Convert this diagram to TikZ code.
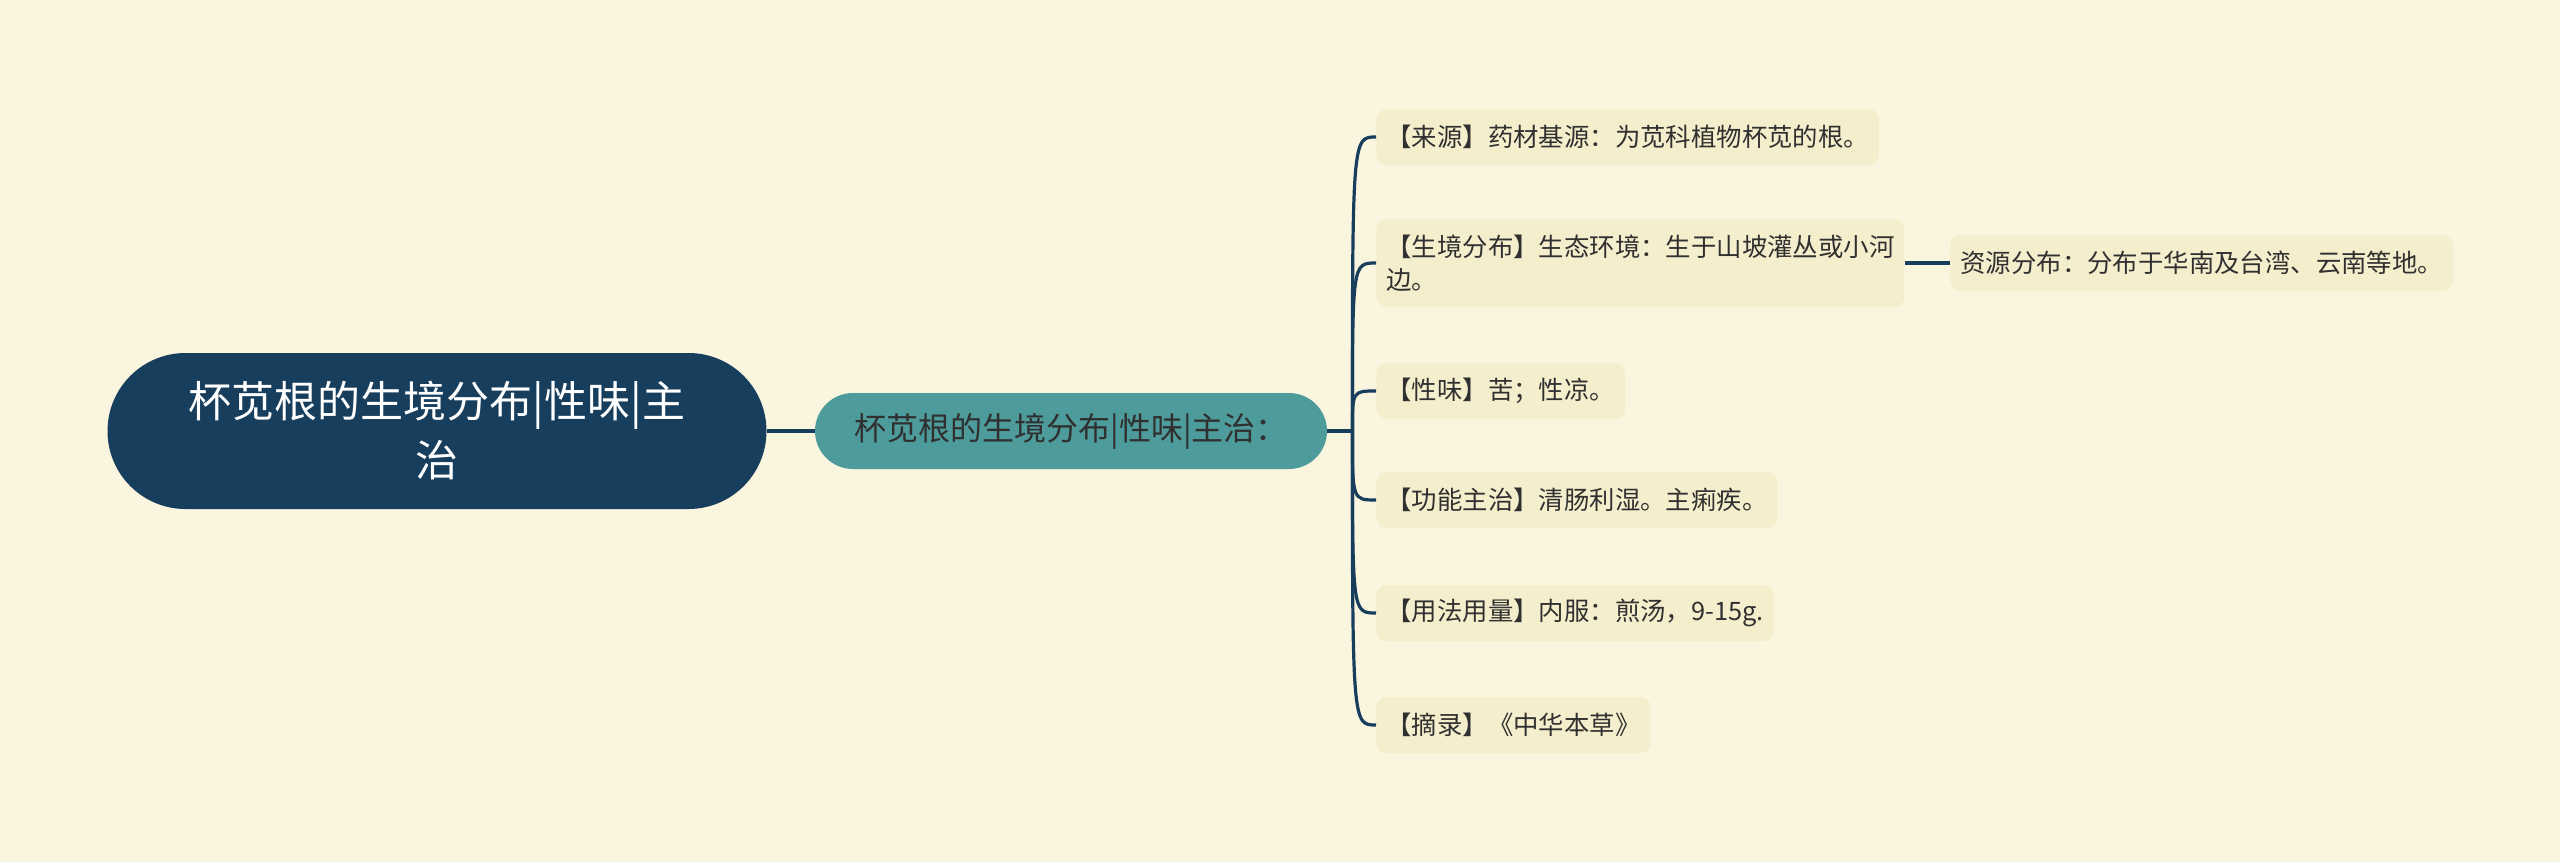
\documentclass[tikz,border=0pt]{standalone}
\usepackage{fontspec}
\newfontfamily\cjk{Noto Sans CJK SC}
\usepackage{tikz}
\usetikzlibrary{positioning,calc}
\usepackage{xcolor}
\definecolor{cream}{HTML}{FAF5DF}
\definecolor{leaffill}{HTML}{F5EECD}
\definecolor{navy}{HTML}{173E5C}
\definecolor{tealnode}{HTML}{4E9B9B}
\definecolor{inkgray}{HTML}{303030}
\tikzset{rootbox/.style={fill=navy,text=white,rounded corners=39pt,minimum width=329.5pt,minimum height=78pt,align=center,font=\cjk\fontsize{21.5}{29.5}\selectfont}, mainbox/.style={fill=tealnode,text=inkgray,rounded corners=19pt,minimum width=256pt,minimum height=38pt,font=\cjk\fontsize{16}{19}\selectfont}, leafbox/.style={fill=leaffill,text=inkgray,rounded corners=5pt,inner xsep=5pt,minimum height=28pt,anchor=west,align=left,font=\cjk\fontsize{12.7}{16.5}\selectfont}, linkline/.style={draw=navy,line width=1.6pt}}

\begin{document}
\begin{tikzpicture}[x=0.5pt,y=-0.5pt]
\fill[cream] (0,0) rectangle (2560,862);\useasboundingbox (0,0) rectangle (2560,862);
\node[rootbox] (root) at (437,431) {杯苋根的生境分布|性味|主\\治};
\node[mainbox] (main) at (1071,431) {杯苋根的生境分布|性味|主治：};
\coordinate (hub) at ([xshift=12.5pt]main.east);
\node[leafbox] (src) at (1376,137) {【来源】药材基源：为苋科植物杯苋的根。};
\node[leafbox,minimum height=44pt] (hab) at (1376,263) {【生境分布】生态环境：生于山坡灌丛或小河\\边。};
\node[leafbox] (taste) at (1376,391) {【性味】苦；性凉。};
\node[leafbox] (func) at (1376,500) {【功能主治】清肠利湿。主痢疾。};
\node[leafbox] (dose) at (1376,613) {【用法用量】内服：煎汤，9-15g.};
\node[leafbox] (ref) at (1376,725) {【摘录】《中华本草》};
\node[leafbox] (dist) at (1950,263) {资源分布：分布于华南及台湾、云南等地。};
\draw[linkline] (root.east) -- (main.west);
\draw[linkline] (main.east) -- (hub);
\foreach \leaf in {src,hab,taste,func,dose,ref} \draw[linkline] (hub) .. controls (hub |- \leaf.west) .. (\leaf.west);
\draw[linkline] (hab.east) -- (dist.west);
\end{tikzpicture}
\end{document}
